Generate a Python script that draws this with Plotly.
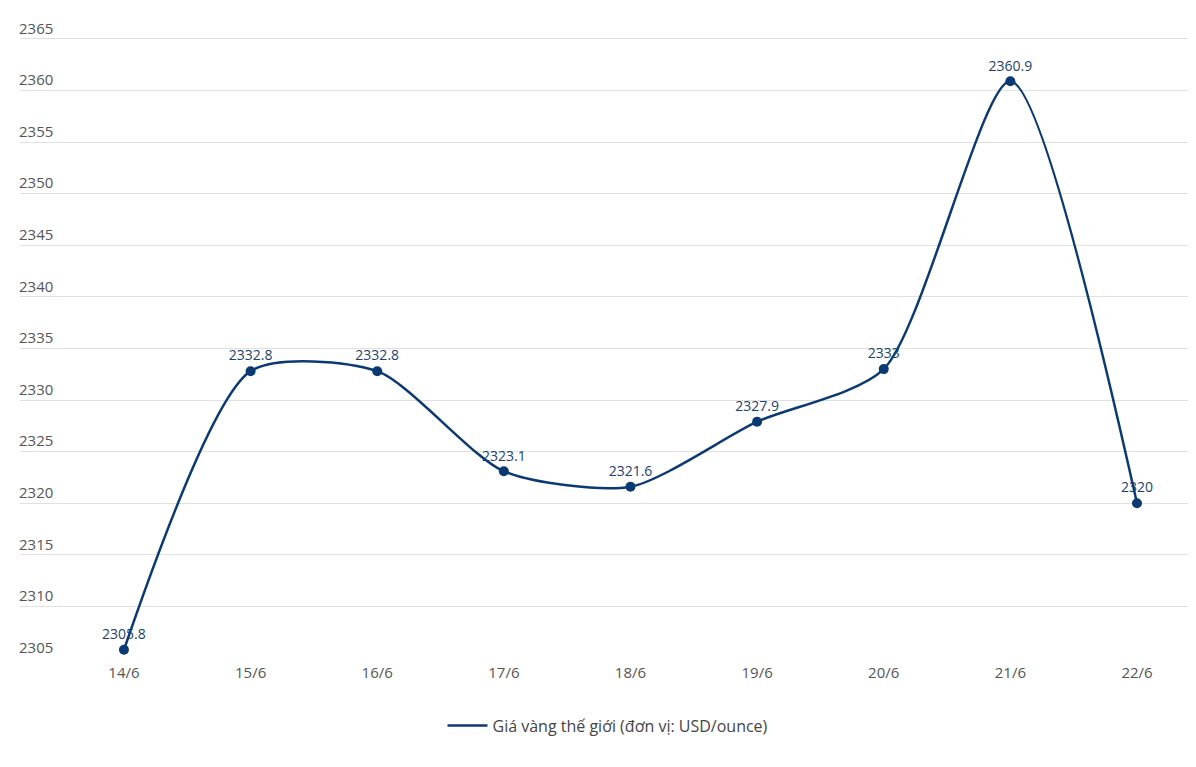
import plotly.graph_objects as go

# Chart data
DATES = ['14/6', '15/6', '16/6', '17/6', '18/6', '19/6', '20/6', '21/6', '22/6']
PRICES = [2305.8, 2332.8, 2332.8, 2323.1, 2321.6, 2327.9, 2333, 2360.9, 2320]
LABELS = ['2305.8', '2332.8', '2332.8', '2323.1', '2321.6', '2327.9', '2333', '2360.9', '2320']
Y_TICKS = [2305, 2310, 2315, 2320, 2325, 2330, 2335, 2340, 2345, 2350, 2355, 2360, 2365]

COLORS = {
    'line': '#0b3a73',
    'label': '#1d3f6e',
    'tick': '#555555',
    'grid': '#e0e0e0',
}

# page body has an 8px margin, so the figure is sized/offset to compensate
fig = go.Figure()

# Smoothed line (legend entry)
fig.add_trace(go.Scatter(
    x=list(range(len(DATES))),
    y=PRICES,
    mode='lines',
    name='Giá vàng thế giới (đơn vị: USD/ounce)',
    line=dict(color=COLORS['line'], width=2.5, shape='spline', smoothing=0.7),
    hoverinfo='skip',
))

# Points with value labels
fig.add_trace(go.Scatter(
    x=list(range(len(DATES))),
    y=PRICES,
    mode='markers+text',
    showlegend=False,
    marker=dict(color=COLORS['line'], size=10),
    text=LABELS,
    textposition='top center',
    textfont=dict(family='Open Sans', size=14, color=COLORS['label']),
    cliponaxis=False,
))

fig.update_layout(
    width=1188,
    height=759,
    paper_bgcolor='white',
    plot_bgcolor='white',
    margin=dict(l=12, r=0, t=0, b=109, autoexpand=False),
    font=dict(family='Open Sans', color=COLORS['tick'], size=14),
    xaxis=dict(
        tickmode='array',
        tickvals=list(range(len(DATES))),
        ticktext=DATES,
        range=[-0.821, 8.466],
        showgrid=False,
        zeroline=False,
        showline=False,
        ticks='',
        ticklabelstandoff=4,
        automargin=False,
        tickfont=dict(size=15, color=COLORS['tick']),
    ),
    yaxis=dict(
        range=[2305, 2368],
        tickvals=Y_TICKS,
        ticklabelposition='inside top',
        ticklabelstandoff=-4,
        gridcolor=COLORS['grid'],
        gridwidth=1,
        zeroline=True,
        zerolinecolor=COLORS['grid'],
        showline=False,
        ticks='',
        automargin=False,
        tickfont=dict(size=15, color=COLORS['tick']),
    ),
    legend=dict(
        orientation='h',
        x=0.5,
        xanchor='center',
        y=-0.078,
        yanchor='top',
        font=dict(family='Open Sans', size=16, color='#444444'),
        itemwidth=40,
    ),
    showlegend=True,
)

fig.write_html("out.html")
